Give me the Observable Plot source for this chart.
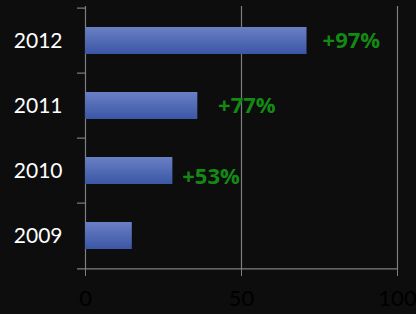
<!DOCTYPE html>
<html>
<head>
<meta charset="utf-8">
<script src="https://cdn.jsdelivr.net/npm/d3@7"></script>
<script src="https://cdn.jsdelivr.net/npm/@observablehq/plot@0.6"></script>
<style>
  html, body { margin: 0; padding: 0; background: #0d0d0d; }
</style>
</head>
<body>
<div id="chart"></div>
<script>
const years = ["2012", "2011", "2010", "2009"];
const values = [71, 36, 28, 15];
const growthLabels = ["+97%", "+77%", "+53%", ""];
const labelAnchorX = [76, 42.5, 31, 0];
const xTicks = [0, 50, 100];

const data = years.map((y, i) => ({year: y, value: values[i], label: growthLabels[i], lx: labelAnchorX[i]}));

const W = 416, H = 314, mT = 6, mB = 45, mL = 85, mR = 19;
const step = (H - mT - mB) / years.length;
const pxPerUnit = (W - mL - mR) / 100;
const tickLen = 8 / pxPerUnit;
const grey = "#7f7f7f";
const green = "#138a13";

const plot = Plot.plot({
  width: W, height: H,
  marginTop: mT, marginBottom: mB, marginLeft: mL, marginRight: mR,
  style: {background: "#0d0d0d", fontFamily: "Lato, sans-serif", overflow: "visible"},
  x: {domain: [0, 100]},
  y: {domain: years, paddingInner: 0.59, paddingOuter: 0.295},
  marks: [
    Plot.ruleX(xTicks, {stroke: grey, strokeWidth: 1.2}),
    Plot.ruleY(years, {y: d => d, dy: -step / 2, x1: -tickLen, x2: 0, stroke: grey, strokeWidth: 1.2}),
    Plot.ruleY([years[years.length - 1]], {y: d => d, dy: step / 2, x1: -tickLen, x2: 100, stroke: grey, strokeWidth: 1.2}),
    Plot.barX(data, {x: "value", y: "year", fill: "url(#barGrad)"}),
    Plot.text(data.filter(d => d.label && d.year !== "2010"), {x: "lx", y: "year", text: "label", textAnchor: "start", fill: green, fontWeight: "bold", fontSize: 22, fontFamily: "Open Sans"}),
    Plot.text(data.filter(d => d.year === "2010"), {x: "lx", y: "year", text: "label", textAnchor: "start", dy: 6, fill: green, fontWeight: "bold", fontSize: 22, fontFamily: "Open Sans"}),
    Plot.axisY({tickSize: 0, tickPadding: 23, fill: "white", fontSize: 21, label: null}),
    Plot.axisX({ticks: xTicks, tickSize: 7, stroke: grey, fill: "#000", fontSize: 22, tickPadding: 14, label: null})
  ]
});

const defs = d3.select(plot).insert("defs", ":first-child");
const g = defs.append("linearGradient").attr("id", "barGrad").attr("x1", 0).attr("y1", 0).attr("x2", 0).attr("y2", 1);
g.append("stop").attr("offset", "0%").attr("stop-color", "#6a80c4");
g.append("stop").attr("offset", "100%").attr("stop-color", "#3b56a6");

document.getElementById("chart").appendChild(plot);
</script>
</body>
</html>
